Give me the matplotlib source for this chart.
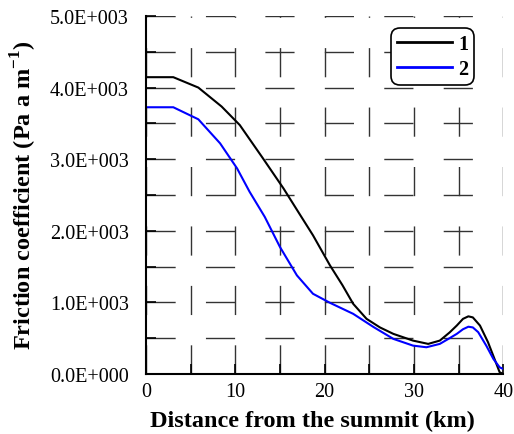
import matplotlib
matplotlib.use("Agg")
import matplotlib.pyplot as plt
from matplotlib.ticker import MultipleLocator, FuncFormatter

plt.rcParams["font.family"] = ["Liberation Serif", "DejaVu Serif"]
plt.rcParams["mathtext.fontset"] = "custom"
plt.rcParams["mathtext.rm"] = "Liberation Serif"
plt.rcParams["mathtext.bf"] = "Liberation Serif:bold"

# distance from the summit (km) and friction coefficient
x1 = [0, 3.06, 5.86, 8.47, 10.5, 13.1, 15.4, 17.4, 18.7, 20.6, 22.0, 23.2, 24.7,
      26.2, 27.7, 29.9, 31.6, 32.9, 34.0, 34.8, 35.5, 36.1, 36.6, 37.4, 38.3,
      39.1, 39.6, 40]
y1 = [4145, 4145, 4000, 3735, 3477, 3011, 2591, 2194, 1937, 1517, 1240, 980, 770,
      650, 560, 466, 420, 466, 580, 676, 770, 805, 790, 676, 443,
      186, 24, 0]

x2 = [0, 3.06, 5.86, 8.3, 10.2, 11.6, 13.3, 15.0, 16.9, 18.7, 20.6, 23.2, 25.5,
      27.7, 29.9, 31.4, 32.9, 34.0, 34.8, 35.5, 36.1, 36.6, 37.2, 38.1, 38.9,
      39.6, 40]
y2 = [3725, 3725, 3557, 3221, 2871, 2545, 2194, 1774, 1377, 1120, 994, 840, 654,
      490, 396, 373, 420, 500, 560, 625, 660, 650, 584, 396, 210,
      93, 70]

labels = ["1", "2"]

fig = plt.figure(figsize=(5.14, 4.35), dpi=100)
ax = fig.add_axes([0.284, 0.138, 0.695, 0.823])

ax.plot(x1, y1, color="black", lw=1.5, label=labels[0])
ax.plot(x2, y2, color="#0000ff", lw=1.5, label=labels[1])

ax.set_xlim(0, 40)
ax.set_ylim(0, 5000)
ax.xaxis.set_major_locator(MultipleLocator(10))
ax.xaxis.set_minor_locator(MultipleLocator(5))
ax.yaxis.set_major_locator(MultipleLocator(1000))
ax.yaxis.set_minor_locator(MultipleLocator(500))
ax.yaxis.set_major_formatter(
    FuncFormatter(lambda v, p: "%.1fE+003" % (v / 1000) if v > 0 else "0.0E+000"))

# long-dash grid on every major and minor tick
ax.grid(which="both", color="#333333", lw=1.0, linestyle=(0, (21, 21.8)))
ax.set_axisbelow(True)

for s in ["top", "right"]:
    ax.spines[s].set_visible(False)
for s in ["left", "bottom"]:
    ax.spines[s].set_linewidth(1.5)

ax.tick_params(which="both", direction="in", length=7, width=1.2, labelsize=14.5)
ax.tick_params(axis="y", which="both", pad=12.5)
ax.tick_params(axis="x", which="both", pad=6)

fig.text(312 / 514, 1 - 421 / 435, "Distance from the summit (km)",
         fontsize=17.5, fontweight="bold", ha="center", va="center")
fig.text(24 / 514, 1 - 195 / 435, r"Friction coefficient (Pa a m$^{\mathbf{-1}}$)",
         fontsize=17.5, fontweight="bold", ha="center", va="center", rotation=90)

leg = ax.legend(loc="upper right", bbox_to_anchor=(0.919, 0.966),
                borderaxespad=0, prop={"weight": "bold", "size": 14.5},
                handlelength=2.75, fancybox=True, framealpha=1, edgecolor="black",
                borderpad=0.3, labelspacing=0.25, handletextpad=0.3)
leg.get_frame().set_linewidth(1.2)
leg.get_frame().set_boxstyle("round,pad=0,rounding_size=0.45")
for line in leg.get_lines():
    line.set_linewidth(2.0)

fig.savefig("out.png", dpi=100)
